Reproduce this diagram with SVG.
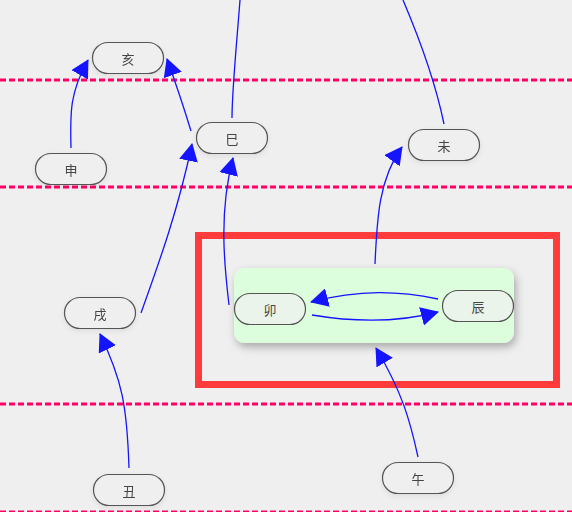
<svg xmlns="http://www.w3.org/2000/svg" width="572" height="512" viewBox="0 0 572 512">
<defs>
<style>
.bg{fill:#efefef}
.lane{stroke:#ff0066;stroke-width:3;stroke-dasharray:6 3;fill:none}
.node rect{fill:#efefef;stroke:#555;stroke-width:1.2}
.inner rect{fill:#eaf4ea}
.node text{font-family:"Noto Sans CJK SC","Noto Sans",sans-serif;font-size:13px;fill:#444;text-anchor:middle;dominant-baseline:central}
.edge{fill:none;stroke:#1414ff;stroke-width:1.3}
</style>
<marker id="ah" viewBox="0 0 18 19" refX="17" refY="9.5" markerWidth="18" markerHeight="19" markerUnits="userSpaceOnUse" orient="auto">
<path d="M0,0 L18,9.5 L0,19 Z" fill="#1414ff"/>
</marker>
<filter id="sh" x="-20%" y="-30%" width="140%" height="170%">
<feDropShadow dx="2" dy="4" stdDeviation="4" flood-color="#000" flood-opacity="0.3"/>
</filter>
<filter id="ns" x="-20%" y="-40%" width="140%" height="180%">
<feDropShadow dx="0" dy="2" stdDeviation="2.5" flood-color="#000" flood-opacity="0.08"/>
</filter>
</defs>
<rect class="bg" x="0" y="0" width="572" height="512"/>
<g id="lanes">
<line class="lane" x1="0" y1="80" x2="572" y2="80"/>
<line class="lane" x1="0" y1="187" x2="572" y2="187"/>
<line class="lane" x1="0" y1="404" x2="572" y2="404"/>
<line class="lane" x1="0" y1="511.5" x2="572" y2="511.5" style="stroke-width:2"/>
</g>
<g id="highlight">
<rect x="198.5" y="235.5" width="358" height="149" fill="none" stroke="#ff3b3b" stroke-width="7"/>
</g>
<g id="group">
<rect x="234" y="268" width="280" height="75" rx="11" fill="#dcfedc" filter="url(#sh)"/>
</g>
<g id="connectors">
<path class="edge" d="M71,148 C70,112 70,92 88,60" marker-end="url(#ah)"/>
<path class="edge" d="M191,131 C184,108 176,84 167,59" marker-end="url(#ah)"/>
<path class="edge" d="M240,0 C237,40 232,90 232,118"/>
<path class="edge" d="M141,313 C160,260 178,210 192,144" marker-end="url(#ah)"/>
<path class="edge" d="M229,305 C225,270 218,215 233,158" marker-end="url(#ah)"/>
<path class="edge" d="M375,264 C377,222 378,180 402,147" marker-end="url(#ah)"/>
<path class="edge" d="M403,0 C420,40 435,80 444,124"/>
<path class="edge" d="M129,468 C127,405 122,380 100,334" marker-end="url(#ah)"/>
<path class="edge" d="M418,457 C410,420 402,392 376,348" marker-end="url(#ah)"/>
<path class="edge" d="M438,299 C400,291 360,289 311,302" marker-end="url(#ah)"/>
<path class="edge" d="M312,315 C360,323 400,322 438,312" marker-end="url(#ah)"/>
</g>
<g id="n-hai" class="node" filter="url(#ns)"><rect x="92.5" y="42.5" width="71" height="31" rx="15.5"/><text x="128" y="58">亥</text></g>
<g id="n-shen" class="node" filter="url(#ns)"><rect x="35.5" y="153.5" width="71" height="31" rx="15.5"/><text x="71" y="169">申</text></g>
<g id="n-si" class="node" filter="url(#ns)"><rect x="196.5" y="122.5" width="71" height="31" rx="15.5"/><text x="232" y="138">巳</text></g>
<g id="n-wei" class="node" filter="url(#ns)"><rect x="408.5" y="129.5" width="71" height="31" rx="15.5"/><text x="444" y="145">未</text></g>
<g id="n-xu" class="node" filter="url(#ns)"><rect x="64.5" y="297.5" width="71" height="31" rx="15.5"/><text x="100" y="313">戌</text></g>
<g id="n-mao" class="node inner"><rect x="234.5" y="293.5" width="71" height="31" rx="15.5"/><text x="270" y="309">卯</text></g>
<g id="n-chen" class="node inner"><rect x="442.5" y="290.5" width="71" height="31" rx="15.5"/><text x="478" y="306">辰</text></g>
<g id="n-chou" class="node" filter="url(#ns)"><rect x="93.5" y="474.5" width="71" height="31" rx="15.5"/><text x="129" y="490">丑</text></g>
<g id="n-wu" class="node" filter="url(#ns)"><rect x="382.5" y="462.5" width="71" height="31" rx="15.5"/><text x="418" y="478">午</text></g>
</svg>
